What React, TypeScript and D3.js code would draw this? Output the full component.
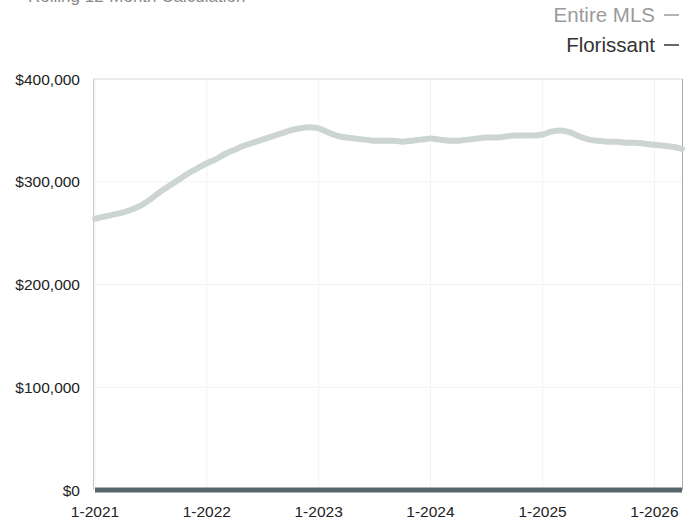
import React from "react";
import * as d3 from "d3";

const START_YEAR = 2021;
const MONTH_COUNT = 64; // Jan 2021 .. Apr 2026

const entireMLS: number[] = [
  264000, 266000, 268000, 270000, 273000, 277000, 283000, 290000, 296000, 302000, 308000, 313000,
  318000, 322000, 327000, 331000, 335000, 338000, 341000, 344000, 347000, 350000, 352000, 353000,
  352000, 348000, 345000, 343000, 342000, 341000, 340000, 340000, 340000, 339000, 340000, 341000,
  342000, 341000, 340000, 340000, 341000, 342000, 343000, 343000, 344000, 345000, 345000, 345000,
  346000, 349000, 350000, 348000, 344000, 341000, 340000, 339000, 339000, 338000, 338000, 337000,
  336000, 335000, 334000, 332000,
];

const florissant: number[] = [
  0, 0, 0, 0, 0, 0, 0, 0, 0, 0, 0, 0,
  0, 0, 0, 0, 0, 0, 0, 0, 0, 0, 0, 0,
  0, 0, 0, 0, 0, 0, 0, 0, 0, 0, 0, 0,
  0, 0, 0, 0, 0, 0, 0, 0, 0, 0, 0, 0,
  0, 0, 0, 0, 0, 0, 0, 0, 0, 0, 0, 0,
  0, 0, 0, 0,
];

const yTicks: number[] = [0, 100000, 200000, 300000, 400000];
const xTickYears: number[] = [2021, 2022, 2023, 2024, 2025, 2026];
const legendLabels: string[] = ["Entire MLS", "Florissant"];
const titleText = "Rolling 12-Month Calculation";

const W = 694;
const H = 520;
const M = { left: 94, right: 682, top: 79, bottom: 490 };

export default function App() {
  const dates = d3.range(MONTH_COUNT).map((i) => new Date(START_YEAR, i, 1));
  const x = d3
    .scaleTime()
    .domain([new Date(START_YEAR, 0, 1), new Date(START_YEAR, MONTH_COUNT - 1, 1)])
    .range([M.left + 1, M.right]);
  const y = d3.scaleLinear().domain([0, 400000]).range([M.bottom, M.top]);

  const line = d3
    .line<number>()
    .x((_, i) => x(dates[i]))
    .y((d) => y(d))
    .curve(d3.curveMonotoneX);

  const fmt = (v: number) => "$" + d3.format(",")(v);
  const font = "'Liberation Sans', Arial, Helvetica, sans-serif";

  return (
    <svg
      width={W}
      height={H}
      style={{ position: "absolute", left: 0, top: 0, background: "#fff" }}
      fontFamily={font}
    >
      <rect x={0} y={0} width={W} height={H} fill="#fff" />
      {/* cropped title (cut off at top edge, as in the reference) */}
      <text x={28} y={1.5} fontSize={17} fill="#8a8a8a">
        {titleText}
      </text>

      {/* gridlines */}
      {yTicks
        .filter((t) => t > 0 && t < 400000)
        .map((t) => (
          <line key={"gy" + t} x1={M.left} x2={M.right} y1={y(t)} y2={y(t)} stroke="#f2f2f2" strokeWidth={1} />
        ))}
      {xTickYears.map((yr) => {
        const xx = x(new Date(yr, 0, 1));
        return (
          <line key={"gx" + yr} x1={xx} x2={xx} y1={M.top} y2={M.bottom} stroke="#f3f3f3" strokeWidth={1} />
        );
      })}

      {/* frame */}
      <line x1={M.left - 0.5} x2={M.right} y1={M.top} y2={M.top} stroke="#d8d8d8" strokeWidth={1} />
      <line x1={M.left - 0.5} x2={M.left - 0.5} y1={M.top} y2={M.bottom} stroke="#c8c8c8" strokeWidth={1} />
      <line x1={M.right + 0.5} x2={M.right + 0.5} y1={M.top} y2={M.bottom} stroke="#aaaaaa" strokeWidth={1} />

      {/* Entire MLS line */}
      <path d={line(entireMLS) || ""} fill="none" stroke="#cdd5d2" strokeWidth={6} strokeLinecap="round" strokeLinejoin="round" />
      {/* Florissant line */}
      <path d={line(florissant) || ""} fill="none" stroke="#56666b" strokeWidth={5} strokeLinecap="butt" />

      {/* y axis labels */}
      {yTicks.map((t) => (
        <text key={"yl" + t} x={80} y={y(t)} dy="0.36em" textAnchor="end" fontSize={15.5} fill="#222">
          {fmt(t)}
        </text>
      ))}

      {/* x axis labels */}
      {xTickYears.map((yr) => (
        <text key={"xl" + yr} x={x(new Date(yr, 0, 1))} y={517} textAnchor="middle" fontSize={15.5} fill="#222">
          {"1-" + yr}
        </text>
      ))}

      {/* legend */}
      <text x={655} y={22} textAnchor="end" fontSize={20.5} fill="#9a9a9a">
        {legendLabels[0]}
      </text>
      <line x1={664} x2={679} y1={15} y2={15} stroke="#9a9a9a" strokeWidth={1.5} />
      <text x={655} y={52} textAnchor="end" fontSize={20.5} fill="#333">
        {legendLabels[1]}
      </text>
      <line x1={664} x2={679} y1={45} y2={45} stroke="#333" strokeWidth={1.5} />
    </svg>
  );
}
